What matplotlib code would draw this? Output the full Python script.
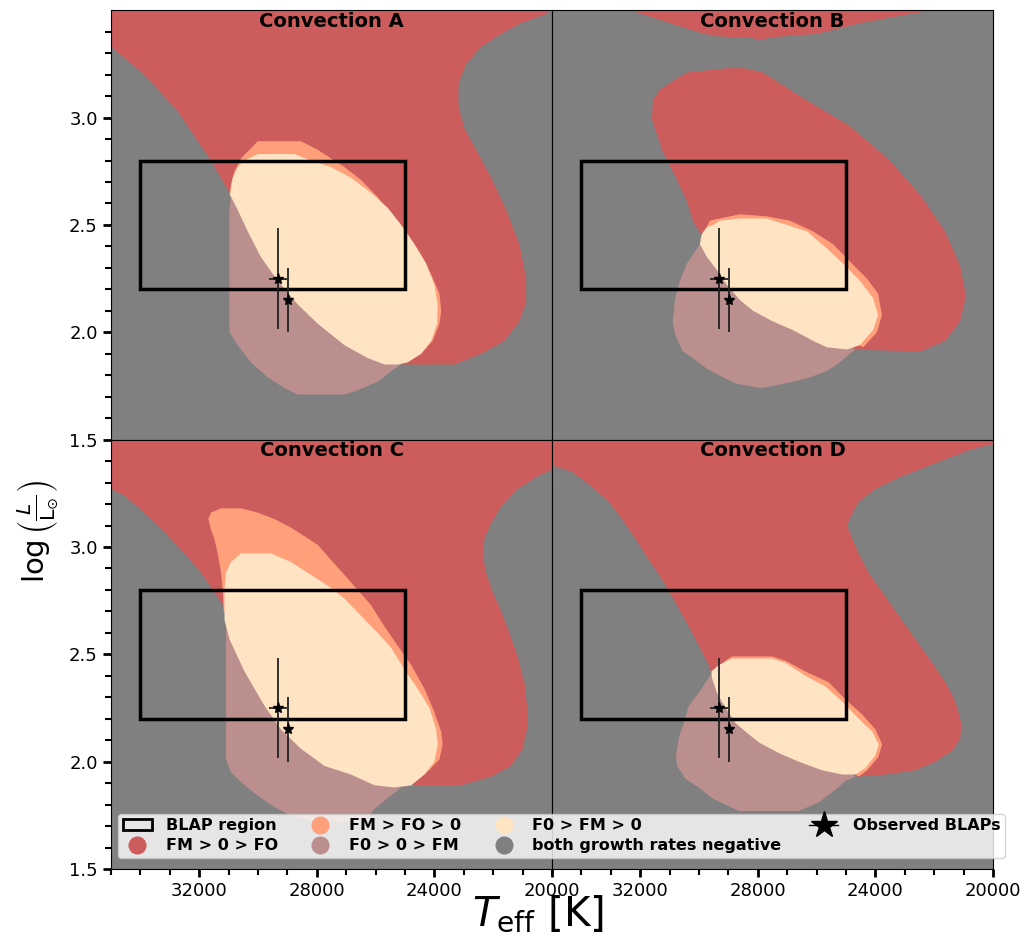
import matplotlib
matplotlib.use("Agg")
import matplotlib.pyplot as plt
from matplotlib.lines import Line2D
from matplotlib.patches import Patch, Rectangle

# colours of the growth-rate classes
c_red = "indianred"      # FM > 0 > FO
c_salmon = "lightsalmon" # FM > FO > 0
c_bisque = "bisque"      # F0 > FM > 0
c_rosy = "rosybrown"     # F0 > 0 > FM
c_grey = "grey"          # both negative

# region outlines, (Teff [K], log L)
# ---- Convection A
red_A_T = [35000, 20000, 20260, 21050, 21730, 22410, 22920, 23180, 23180, 22980, 22580, 22070, 21560, 21110,
           20880, 20880, 21110, 21620, 22410, 23320, 25130, 30920, 31140, 31600, 32050, 32730, 33870, 35000]
red_A_L = [3.50, 3.50, 3.48, 3.44, 3.39, 3.33, 3.25, 3.16, 3.05, 2.95, 2.85, 2.72, 2.57, 2.41,
           2.25, 2.14, 2.05, 1.96, 1.90, 1.85, 1.85, 2.64, 2.69, 2.80, 2.89, 3.03, 3.20, 3.33]
rosy_A_T = [30920, 30970, 30970, 30690, 30240, 29670, 29100, 28650, 27060, 26610, 25930, 25360, 25130]
rosy_A_L = [2.64, 2.57, 2.00, 1.94, 1.86, 1.79, 1.74, 1.71, 1.71, 1.73, 1.77, 1.83, 1.85]
salmon_A_T = [30970, 30920, 30800, 30580, 30010, 28540, 27970, 27520, 27060, 26500, 25930, 25360, 24910,
              24450, 24110, 23830, 23770, 23830, 24060, 24450]
salmon_A_L = [2.64, 2.69, 2.75, 2.81, 2.89, 2.89, 2.85, 2.81, 2.77, 2.71, 2.63, 2.53, 2.46,
              2.36, 2.27, 2.18, 2.10, 2.04, 1.96, 1.90]
bisque_A_T = [30010, 28760, 28200, 27520, 26840, 26160, 25590, 25130, 24680, 24280, 24000, 23890, 23910,
              24110, 24450, 24910, 25250, 25700, 26270, 27060, 27970, 28650, 29330, 29900, 30350, 30690,
              30950, 30860, 30690, 30460]
bisque_A_L = [2.83, 2.83, 2.80, 2.77, 2.72, 2.65, 2.58, 2.50, 2.41, 2.32, 2.22, 2.13, 2.04,
              1.96, 1.90, 1.86, 1.85, 1.85, 1.88, 1.94, 2.04, 2.13, 2.24, 2.35, 2.47, 2.57,
              2.64, 2.72, 2.77, 2.80]

# ---- Convection B
redtop_B_T = [32350, 32010, 31430, 30990, 30070, 29520, 28160, 27990, 27480, 25990, 24520, 22930, 22040]
redtop_B_L = [3.50, 3.485, 3.46, 3.44, 3.40, 3.38, 3.37, 3.36, 3.375, 3.39, 3.44, 3.48, 3.50]
red_B_T = [29050, 30410, 30890, 31330, 31570, 31600, 31260, 30750, 30410, 30210, 29900, 24760, 22480,
           21630, 21120, 20920, 21120, 21630, 22480, 23510, 24870, 26570, 27820, 28440]
red_B_L = [3.23, 3.21, 3.17, 3.13, 3.08, 2.99, 2.85, 2.71, 2.61, 2.52, 2.45, 1.92, 1.91,
           1.96, 2.05, 2.17, 2.31, 2.47, 2.64, 2.80, 2.96, 3.10, 3.21, 3.23]
rosy_B_T = [29970, 30410, 30650, 30820, 30890, 30820, 30550, 30210, 29730, 29180, 28710, 27930, 27480,
            26800, 26230, 25650, 25210, 24870, 24700]
rosy_B_L = [2.41, 2.32, 2.24, 2.15, 2.05, 1.99, 1.91, 1.88, 1.83, 1.79, 1.76, 1.74, 1.75,
            1.77, 1.79, 1.82, 1.86, 1.90, 1.92]
salmon_B_T = [29630, 29290, 28610, 27690, 26910, 26120, 25440, 24870, 24290, 23910, 23780, 23950, 24420,
              29970]
salmon_B_L = [2.52, 2.53, 2.55, 2.54, 2.52, 2.47, 2.41, 2.33, 2.25, 2.18, 2.08, 2.00, 1.93,
              2.43]
bisque_B_T = [29520, 29290, 28610, 27690, 27010, 26330, 25650, 25100, 24530, 24080, 23910, 24080, 24530,
              24970, 25650, 26120, 26800, 27480, 28160, 28610, 29050, 29390, 29730, 29970, 29900, 29730]
bisque_B_L = [2.50, 2.52, 2.53, 2.53, 2.50, 2.47, 2.39, 2.32, 2.24, 2.16, 2.08, 2.01, 1.94,
              1.92, 1.93, 1.96, 2.01, 2.05, 2.10, 2.15, 2.22, 2.29, 2.35, 2.41, 2.46, 2.49]

# ---- Convection C
red_C_T = [35000, 20000, 20000, 20490, 21170, 21730, 22070, 22300, 22360, 22240, 22020, 21730, 21450,
           21170, 20940, 20850, 20850, 21000, 21390, 22070, 23090, 24680, 31090, 31200, 31490, 31940,
           32500, 33190, 33870, 34550, 35000]
red_C_L = [3.50, 3.50, 3.36, 3.33, 3.27, 3.19, 3.11, 3.04, 2.96, 2.88, 2.79, 2.70, 2.60,
           2.49, 2.37, 2.26, 2.15, 2.06, 1.98, 1.93, 1.89, 1.89, 2.70, 2.73, 2.79, 2.88,
           2.97, 3.07, 3.16, 3.24, 3.27]
rosy_C_T = [31090, 31090, 30920, 30460, 29900, 29330, 28760, 27970, 26380, 26040, 25590, 25130, 24740]
rosy_C_L = [2.70, 2.01, 1.95, 1.89, 1.83, 1.78, 1.74, 1.72, 1.72, 1.78, 1.83, 1.88, 1.89]
salmon_C_T = [31170, 31200, 31260, 31370, 31490, 31600, 31690, 31600, 31260, 30580, 30010, 29440, 28880,
              28420, 27970, 27520, 27060, 26610, 26160, 25700, 25250, 24790, 24340, 24000, 23770,
              23720, 23830, 24110, 24340]
salmon_C_L = [2.70, 2.80, 2.88, 2.97, 3.04, 3.08, 3.13, 3.16, 3.18, 3.18, 3.16, 3.13, 3.09,
              3.05, 3.01, 2.94, 2.87, 2.80, 2.73, 2.63, 2.54, 2.45, 2.34, 2.23, 2.14,
              2.08, 2.01, 1.97, 1.94]
bisque_C_T = [30920, 30580, 29560, 28880, 28200, 27630, 27060, 26500, 25930, 25470, 25020, 24570, 24170,
              23940, 23890, 24000, 24340, 24790, 25360, 26040, 26840, 27740, 28540, 29220, 29780,
              30460, 30970, 31140, 31140, 31090]
bisque_C_L = [2.93, 2.97, 2.97, 2.93, 2.87, 2.82, 2.76, 2.68, 2.60, 2.53, 2.43, 2.34, 2.25,
              2.15, 2.08, 2.00, 1.94, 1.89, 1.88, 1.89, 1.94, 1.98, 2.06, 2.15, 2.26,
              2.42, 2.57, 2.66, 2.80, 2.88]

# ---- Convection D
red_D_T = [35000, 20000, 20000, 20830, 21960, 23090, 24000, 24570, 24850, 24960, 24790, 24570, 24230,
           23770, 23210, 22640, 22070, 21620, 21280, 21080, 21110, 21390, 21960, 22640, 23660, 24570,
           29580, 29670, 30010, 30350, 30800, 31260, 31710, 32170, 32620, 33070, 33640, 34320, 35000]
red_D_L = [3.50, 3.50, 3.48, 3.45, 3.39, 3.33, 3.27, 3.21, 3.14, 3.10, 3.04, 2.97, 2.88,
           2.79, 2.68, 2.57, 2.46, 2.37, 2.28, 2.18, 2.11, 2.05, 2.00, 1.96, 1.94, 1.93,
           2.41, 2.45, 2.54, 2.63, 2.74, 2.85, 2.94, 3.04, 3.13, 3.21, 3.28, 3.35, 3.38]
rosy_D_T = [29580, 30010, 30350, 30520, 30690, 30780, 30750, 30460, 30010, 29560, 29100, 28650, 26610,
            25930, 25360, 25020, 24680]
rosy_D_L = [2.41, 2.32, 2.26, 2.18, 2.11, 2.03, 1.98, 1.92, 1.88, 1.83, 1.80, 1.77, 1.77,
            1.81, 1.87, 1.91, 1.93]
salmon_D_T = [29440, 29100, 28880, 27520, 27060, 26380, 25590, 25020, 24450, 24000, 23770, 23910, 24280,
              24570]
salmon_D_L = [2.43, 2.47, 2.49, 2.49, 2.47, 2.42, 2.37, 2.29, 2.22, 2.15, 2.08, 2.02, 1.96,
              1.93]
bisque_D_T = [29580, 29330, 28880, 27520, 27060, 26380, 25700, 25130, 24570, 24110, 23890, 24000, 24340,
              24680, 25130, 25820, 26610, 27290, 27970, 28420, 28760, 29100, 29390, 29560]
bisque_D_L = [2.42, 2.45, 2.48, 2.48, 2.46, 2.40, 2.35, 2.28, 2.20, 2.14, 2.08, 2.03, 1.97,
              1.94, 1.94, 1.96, 2.00, 2.04, 2.09, 2.14, 2.18, 2.25, 2.32, 2.39]

# BLAP box and observed BLAPs
blap_T = (25000, 34000)
blap_L = (2.2, 2.8)
obs_T = [29330, 28990]
obs_L = [2.25, 2.15]
obs_Terr = [310, 0]
obs_Lerr = [0.235, 0.15]

panels = [
    ("Convection A", [(red_A_T, red_A_L, c_red), (rosy_A_T, rosy_A_L, c_rosy),
                      (salmon_A_T, salmon_A_L, c_salmon), (bisque_A_T, bisque_A_L, c_bisque)]),
    ("Convection B", [(redtop_B_T, redtop_B_L, c_red), (red_B_T, red_B_L, c_red), (rosy_B_T, rosy_B_L, c_rosy),
                      (salmon_B_T, salmon_B_L, c_salmon), (bisque_B_T, bisque_B_L, c_bisque)]),
    ("Convection C", [(red_C_T, red_C_L, c_red), (rosy_C_T, rosy_C_L, c_rosy),
                      (salmon_C_T, salmon_C_L, c_salmon), (bisque_C_T, bisque_C_L, c_bisque)]),
    ("Convection D", [(red_D_T, red_D_L, c_red), (rosy_D_T, rosy_D_L, c_rosy),
                      (salmon_D_T, salmon_D_L, c_salmon), (bisque_D_T, bisque_D_L, c_bisque)]),
]

fig, axes = plt.subplots(2, 2, sharex=True, sharey=True, figsize=(10.28, 9.35), dpi=100)
fig.subplots_adjust(left=0.108, right=0.966, top=0.989, bottom=0.0706, wspace=0, hspace=0)

for ax, (name, regions) in zip(axes.flat, panels):
    ax.set_facecolor(c_grey)
    for T, L, col in regions:
        ax.fill(T, L, color=col, lw=0)
    ax.add_patch(Rectangle((blap_T[0], blap_L[0]), blap_T[1] - blap_T[0], blap_L[1] - blap_L[0],
                           fill=False, ec="black", lw=2.5, zorder=5))
    ax.errorbar(obs_T, obs_L, xerr=obs_Terr, yerr=obs_Lerr, fmt="*", color="black", ms=8,
                ecolor="#222222", elinewidth=1.3, zorder=6)
    ax.text(0.5, 0.996, name, transform=ax.transAxes, ha="center", va="top",
            fontsize=14, fontweight="bold", zorder=7)

ax = axes[0, 0]
ax.set_xlim(35000, 20000)
ax.set_ylim(1.5, 3.5)
ax.set_xticks([32000, 28000, 24000, 20000])
ax.set_xticks(range(21000, 35001, 1000), minor=True)
ax.set_yticks([1.5, 2.0, 2.5, 3.0])
ax.set_yticks([1.6 + 0.1 * i for i in range(19)], minor=True)

for a in axes.flat:
    a.tick_params(which="major", length=6, width=2, labelsize=13)
    a.tick_params(which="minor", length=4, width=1.5)
for a in axes[0, :]:
    a.tick_params(which="both", bottom=False)
for a in axes[:, 1]:
    a.tick_params(which="both", left=False)

fig.text(0.037, 1 - 532 / 935, r"$\log\left(\frac{L}{\mathrm{L}_{\odot}}\right)$", rotation=90,
         ha="center", va="center", fontsize=21)
fig.text(538 / 1028, 1 - 925 / 935, r"$T_{\rm eff}$ [K]", ha="center", va="baseline", fontsize=29)

handles = [
    Patch(facecolor="none", edgecolor="black", lw=2, label="BLAP region"),
    Line2D([], [], marker="o", ls="none", ms=12, color=c_red, label="FM > 0 > FO"),
    Line2D([], [], marker="o", ls="none", ms=12, color=c_salmon, label="FM > FO > 0"),
    Line2D([], [], marker="o", ls="none", ms=12, color=c_rosy, label="F0 > 0 > FM"),
    Line2D([], [], marker="o", ls="none", ms=12, color=c_bisque, label="F0 > FM > 0"),
    Line2D([], [], marker="o", ls="none", ms=12, color=c_grey, label="both growth rates negative"),
    Line2D([], [], marker="*", ls="-", lw=1, ms=20, color="black", label="Observed BLAPs"),
]
fig.legend(handles=handles, ncol=4, loc="lower left", bbox_to_anchor=(118 / 1028, 1 - 858 / 935),
           borderaxespad=0, prop={"weight": "bold", "size": 11.5}, labelspacing=0.3, borderpad=0.3,
           handlelength=1.8, handletextpad=0.9, columnspacing=1.75, framealpha=0.8)

fig.savefig("out.png", dpi=100)
